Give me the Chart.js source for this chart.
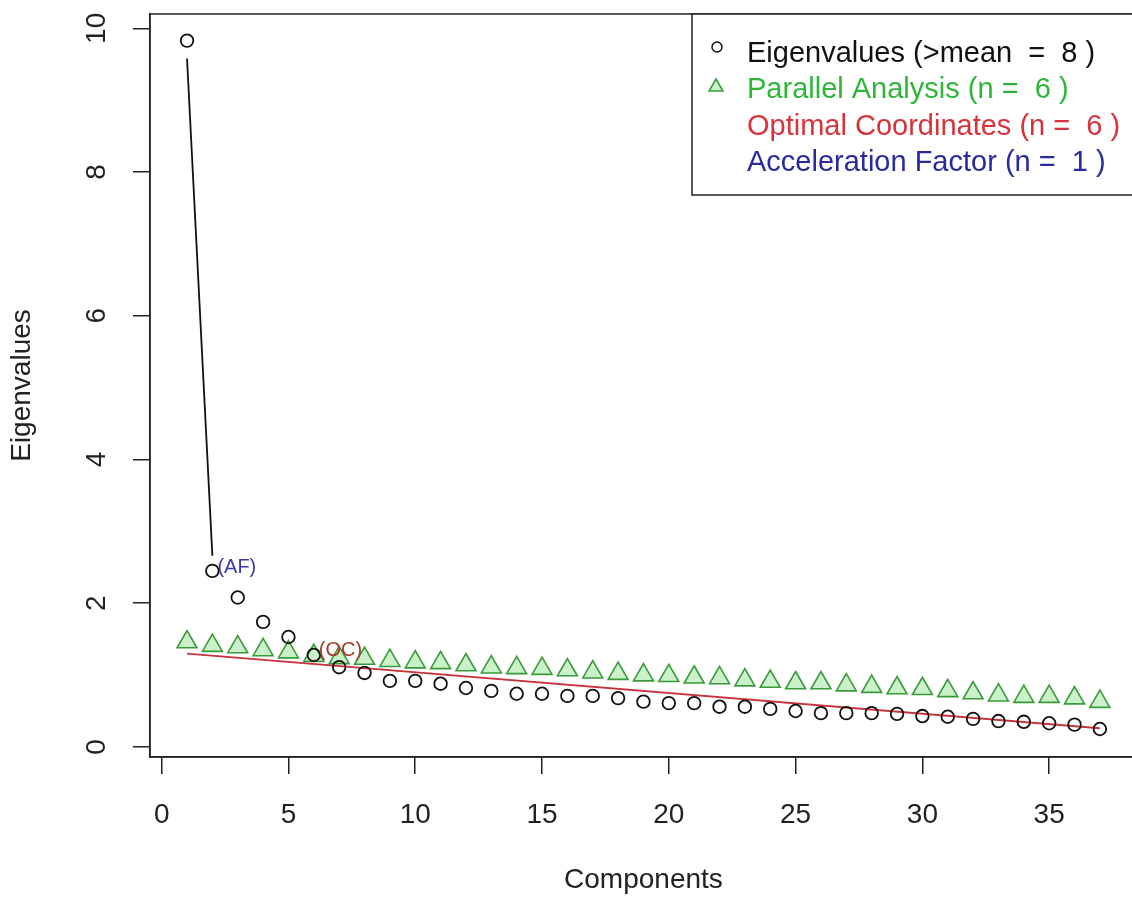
<!DOCTYPE html>
<html>
<head>
<meta charset="utf-8">
<script src="https://cdn.jsdelivr.net/npm/chart.js@4.4.0/dist/chart.umd.min.js"></script>
<style>
  html, body { margin: 0; padding: 0; overflow: hidden; background: #fff; width: 1132px; height: 903px; }
  #wrap { width: 1132px; height: 903px; overflow: hidden; position: relative; }
  #myChart { display: block; position: absolute; left: 0; top: 0; }
</style>
</head>
<body>
<div id="wrap"><canvas id="myChart" width="1150" height="903"></canvas></div>
<script>
// data
const components = [1,2,3,4,5,6,7,8,9,10,11,12,13,14,15,16,17,18,19,20,21,22,23,24,25,26,27,28,29,30,31,32,33,34,35,36,37];
const eigenvalues = [9.83,2.45,2.08,1.74,1.53,1.28,1.11,1.03,0.92,0.92,0.88,0.82,0.78,0.74,0.74,0.71,0.71,0.68,0.63,0.61,0.61,0.56,0.56,0.53,0.50,0.47,0.47,0.47,0.46,0.43,0.42,0.39,0.36,0.35,0.33,0.31,0.25];
const parallelAnalysis = [1.46,1.41,1.39,1.35,1.32,1.27,1.24,1.23,1.20,1.18,1.17,1.14,1.11,1.10,1.09,1.07,1.04,1.02,1.00,0.99,0.97,0.96,0.93,0.91,0.89,0.89,0.86,0.84,0.82,0.81,0.78,0.75,0.72,0.70,0.70,0.68,0.63];
const ocLineX = [1, 37];
const ocLineY = [1.30, 0.26];
const afLineX = [1, 2];
const afLineY = [9.58, 2.66];
const xTicks = [0,5,10,15,20,25,30,35];
const yTicks = [0,2,4,6,8,10];
const legendLabels = ["Eigenvalues (>mean  =  8 )", "Parallel Analysis (n =  6 )", "Optimal Coordinates (n =  6 )", "Acceleration Factor (n =  1 )"];
const legendColors = ["#111111", "#2fb53a", "#d8323a", "#2a2aa0"];
const notes = [{text: "(AF)", x: 2, y: 2.5, color: "#3a3aa8"}, {text: "(OC)", x: 6, y: 1.34, color: "#a83a2a"}];

const FONT = "'Liberation Sans', Arial, sans-serif";
Chart.defaults.font.family = FONT;
Chart.defaults.color = "#222";

const pts = (xs, ys) => xs.map((x, i) => ({x: x, y: ys[i]}));

const extras = {
  id: "extras",
  afterDraw(chart) {
    const ctx = chart.ctx, a = chart.chartArea;
    const xs = chart.scales.x, ys = chart.scales.y;
    ctx.save();
    // plot box
    ctx.strokeStyle = "#222";
    ctx.lineWidth = 1.5;
    ctx.strokeRect(a.left, a.top, a.right - a.left, a.bottom - a.top);
    // rotated y tick labels like R
    ctx.fillStyle = "#222";
    ctx.font = "28px " + FONT;
    ctx.textAlign = "center";
    ctx.textBaseline = "middle";
    yTicks.forEach(v => {
      ctx.save();
      ctx.translate(97, ys.getPixelForValue(v));
      ctx.rotate(-Math.PI / 2);
      ctx.fillText(String(v), 0, 0);
      ctx.restore();
    });
    // (AF) and (OC) notes
    ctx.font = "20px " + FONT;
    ctx.textAlign = "left";
    notes.forEach(n => {
      ctx.fillStyle = n.color;
      ctx.fillText(n.text, xs.getPixelForValue(n.x) + 5, ys.getPixelForValue(n.y));
    });
    // legend box
    const lx = 692, ly = a.top, lh = 181;
    ctx.fillStyle = "#fff";
    ctx.fillRect(lx, ly, chart.width - lx, lh);
    ctx.strokeStyle = "#222";
    ctx.strokeRect(lx, ly, a.right - lx, lh);
    ctx.font = "29px " + FONT;
    legendLabels.forEach((t, i) => {
      const ty = ly + 40 + i * 36.3;
      ctx.fillStyle = legendColors[i];
      ctx.fillText(t, 747, ty);
    });
    ctx.lineWidth = 1.5;
    ctx.strokeStyle = "#111";
    ctx.beginPath();
    ctx.arc(717, ly + 33, 5, 0, Math.PI * 2);
    ctx.stroke();
    ctx.strokeStyle = "#3a9a3a";
    ctx.fillStyle = "rgba(160,230,160,0.55)";
    ctx.beginPath();
    ctx.moveTo(716, ly + 65);
    ctx.lineTo(723, ly + 77);
    ctx.lineTo(709, ly + 77);
    ctx.closePath();
    ctx.fill();
    ctx.stroke();
    ctx.restore();
  }
};

const ctx = document.getElementById("myChart");
new Chart(ctx, {
  type: "scatter",
  data: {
    datasets: [{
      label: "Eigenvalues",
      data: pts(components, eigenvalues),
      pointStyle: "circle",
      pointRadius: 6.3,
      borderColor: "#111",
      backgroundColor: "rgba(0,0,0,0)",
      borderWidth: 1.8,
      order: 0
    }, {
      label: "AF",
      data: pts(afLineX, afLineY),
      showLine: true,
      pointRadius: 0,
      borderColor: "#111",
      borderWidth: 1.8,
      order: 1
    }, {
      label: "Optimal Coordinates",
      data: pts(ocLineX, ocLineY),
      showLine: true,
      pointRadius: 0,
      borderColor: "#c8323c",
      borderWidth: 1.8,
      order: 2
    }, {
      label: "Parallel Analysis",
      data: pts(components, parallelAnalysis),
      pointStyle: "triangle",
      pointRadius: 11.5,
      borderColor: "#3a9a3a",
      backgroundColor: "rgba(160,230,160,0.55)",
      borderWidth: 1.6,
      order: 3
    }]
  },
  options: {
    responsive: false,
    animation: false,
    events: [],
    layout: {padding: {top: 14, right: 3, left: 0, bottom: 0}},
    plugins: {legend: {display: false}, tooltip: {enabled: false}},
    scales: {
      x: {
        type: "linear", min: -0.46, max: 38.46,
        afterBuildTicks: s => { s.ticks = xTicks.map(v => ({value: v})); },
        afterFit: s => { s.height = 146; s.paddingLeft = 0; s.paddingRight = 0; },
        grid: {drawOnChartArea: false, drawTicks: true, tickLength: 17, color: "#222", lineWidth: 1.5},
        border: {display: true, color: "#222", width: 1.5},
        ticks: {font: {size: 28}, color: "#222", padding: 24, maxRotation: 0},
        title: {display: true, text: "Components", font: {size: 28}, color: "#222", padding: {bottom: 6}}
      },
      y: {
        type: "linear", min: -0.14, max: 10.2,
        afterBuildTicks: s => { s.ticks = yTicks.map(v => ({value: v})); },
        afterFit: s => { s.width = 150; s.paddingTop = 0; s.paddingBottom = 0; },
        grid: {drawOnChartArea: false, drawTicks: true, tickLength: 17, color: "#222", lineWidth: 1.5},
        border: {display: true, color: "#222", width: 1.5},
        ticks: {display: false},
        title: {display: true, text: "Eigenvalues", font: {size: 28}, color: "#222", padding: {top: 5}}
      }
    }
  },
  plugins: [extras]
});
</script>
</body>
</html>
